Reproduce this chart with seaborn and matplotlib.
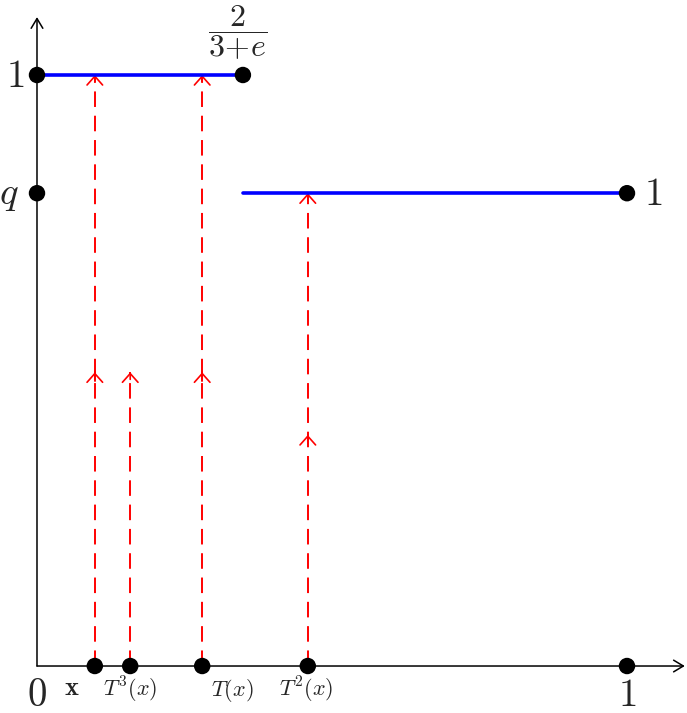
import matplotlib
matplotlib.use('Agg')
import matplotlib.pyplot as plt
import seaborn as sns
import pandas as pd

sns.set_style('white')
plt.rcParams['mathtext.fontset'] = 'cm'
plt.rcParams['font.family'] = ['DejaVu Serif']

# key values
q = 0.8
split = 0.349          # 2/(3+e)
orbit_x = [0.098, 0.158, 0.280, 0.459]
orbit_labels = [r'$\mathbf{x}$', r'$T^3(x)$', r'$T(x)$', r'$T^2(x)$']
orbit_top = [1.0, 0.497, 1.0, 0.8]
mid_arrows = [(0.098, 0.497), (0.280, 0.497), (0.459, 0.391)]

dot_x = [0, split, 0, 1, 1] + orbit_x
dot_y = [1, 1, q, q, 0] + [0] * len(orbit_x)

fig = plt.figure(figsize=(6.87, 7.13), dpi=100)
ax = fig.add_axes([0, 0, 1, 1])
ax.set_xlim(-0.0627, 1.1017)
ax.set_ylim(-0.0795, 1.1269)
ax.axis('off')

# axes with arrows
head = dict(arrowstyle='->,head_length=0.5,head_width=0.3', color='black', lw=1.1,
            shrinkA=0, shrinkB=0, mutation_scale=14)
ax.annotate('', xy=(0, 1.098), xytext=(0, 0), arrowprops=head)
ax.annotate('', xy=(1.098, 0), xytext=(0, 0), arrowprops=head)

red_head = dict(arrowstyle='->,head_length=0.45,head_width=0.4', color='red',
                lw=1.2, shrinkA=0, shrinkB=0, mutation_scale=14)

# red dashed orbit lines
for xv, top in zip(orbit_x, orbit_top):
    ax.plot([xv, xv], [0, top], color='red', lw=1.4, dashes=(8, 4.5), zorder=2)
    ax.annotate('', xy=(xv, top), xytext=(xv, top - 0.012), arrowprops=red_head, zorder=3)
for xv, yv in mid_arrows:
    ax.plot([xv, xv], [yv - 0.015, yv], color='red', lw=1.4, zorder=2)
    ax.annotate('', xy=(xv, yv), xytext=(xv, yv - 0.012), arrowprops=red_head, zorder=3)

# blue step function
seg = pd.DataFrame({'x': [0, split, split, 1], 'y': [1, 1, q, q],
                    'piece': ['a', 'a', 'b', 'b']})
sns.lineplot(data=seg, x='x', y='y', units='piece', estimator=None,
             color='#0000ff', lw=2.6, ax=ax, zorder=4, sort=False)

# dots
sns.scatterplot(x=dot_x, y=dot_y, color='black', s=140, edgecolor='none',
                ax=ax, zorder=5)

# labels
big = 28
ax.text(-0.037, 0.997, r'$1$', fontsize=big, ha='center', va='center')
ax.text(-0.047, 0.797, r'$q$', fontsize=big, ha='center', va='center')
ax.text(0, -0.050, r'$0$', fontsize=big, ha='center', va='center')
ax.text(1, -0.050, r'$1$', fontsize=big, ha='center', va='center')
ax.text(1.044, 0.797, r'$1$', fontsize=big, ha='center', va='center')
ax.text(0.340, 1.072, r'$\dfrac{2}{3\!+\!e}$', fontsize=23, ha='center', va='center')

label_pos = [(0.059, -0.037), (0.158, -0.041), (0.332, -0.041), (0.457, -0.041)]
label_size = [19, 16, 16, 16]
for lab, (lx, ly), fs in zip(orbit_labels, label_pos, label_size):
    ax.text(lx, ly, lab, fontsize=fs, ha='center', va='center')

fig.savefig('out.png', dpi=100)
